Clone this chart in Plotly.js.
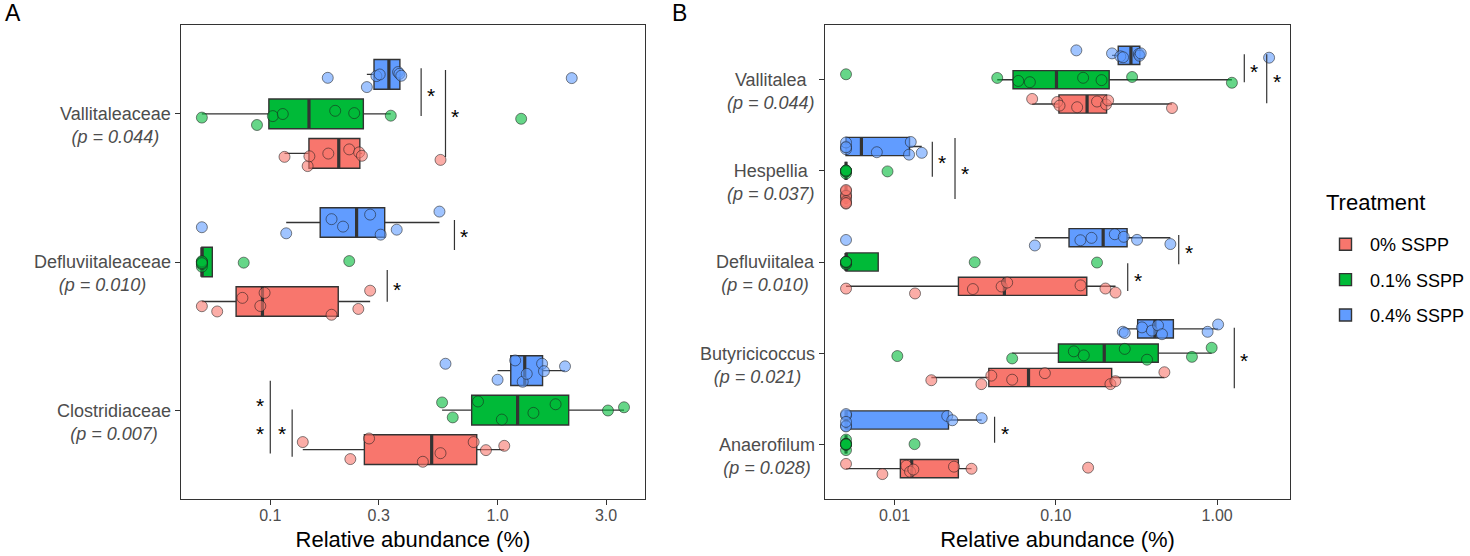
<!DOCTYPE html>
<html><head><meta charset="utf-8">
<script src="https://cdn.plot.ly/plotly-3.0.1.min.js"></script>
<style>html,body{margin:0;padding:0;background:#fff}#chart{width:1470px;height:556px}</style>
</head><body><div id="chart"></div>
<script>
// ---------- data ----------
const treatments = ['0% SSPP', '0.1% SSPP', '0.4% SSPP'];
const treatmentColors = ['#F8766D', '#00BA38', '#619CFF'];
const legendTitle = 'Treatment';

const categoriesA = ['Vallitaleaceae', 'Defluviitaleaceae', 'Clostridiaceae'];
const pValuesA = ['0.044', '0.010', '0.007'];
const categoriesB = ['Vallitalea', 'Hespellia', 'Defluviitalea', 'Butyricicoccus', 'Anaerofilum'];
const pValuesB = ['0.044', '0.037', '0.010', '0.021', '0.028'];

// relative abundance (%), one list per category (same order as categories)
const valuesA_0 = [
  [0.1155, 0.146, 0.1486, 0.180, 0.2225, 0.246, 0.253, 0.561],
  [0.05, 0.0584, 0.0754, 0.0904, 0.0944, 0.186, 0.244, 0.275],
  [0.139, 0.225, 0.272, 0.469, 0.561, 0.785, 0.889, 1.07]
];
const valuesA_01 = [
  [0.05, 0.0874, 0.1026, 0.1135, 0.193, 0.234, 0.339, 1.27],
  [0.05, 0.05, 0.05, 0.05, 0.05, 0.05, 0.0764, 0.2225],
  [0.570, 0.635, 0.82, 1.044, 1.438, 1.80, 3.06, 3.6]
];
const valuesA_04 = [
  [0.179, 0.266, 0.293, 0.303, 0.365, 0.370, 0.377, 2.12],
  [0.05, 0.1175, 0.186, 0.209, 0.275, 0.306, 0.360, 0.555],
  [0.59, 1.0, 1.195, 1.29, 1.344, 1.57, 1.60, 1.98]
];
const valuesB_0 = [
  [0.0713, 0.1019, 0.1054, 0.1355, 0.180, 0.2048, 0.211, 0.525],
  [0.005, 0.005, 0.005, 0.005, 0.005, 0.005, 0.005, 0.005],
  [0.005, 0.01339, 0.0306, 0.0461, 0.0499, 0.1423, 0.203, 0.2344],
  [0.0169, 0.0345, 0.0398, 0.0536, 0.0855, 0.218, 0.234, 0.471],
  [0.005, 0.0084, 0.01183, 0.01247, 0.01307, 0.02335, 0.030, 0.1585]
];
const valuesB_01 = [
  [0.005, 0.0433, 0.0585, 0.069, 0.1476, 0.192, 0.297, 1.235],
  [0.005, 0.005, 0.005, 0.005, 0.005, 0.005, 0.005, 0.00904],
  [0.005, 0.005, 0.005, 0.005, 0.005, 0.005, 0.0314, 0.180],
  [0.0104, 0.0536, 0.1293, 0.149, 0.2674, 0.3675, 0.698, 0.925],
  [0.005, 0.005, 0.005, 0.005, 0.005, 0.005, 0.005, 0.0133]
];
const valuesB_04 = [
  [0.134, 0.223, 0.251, 0.261, 0.327, 0.330, 0.336, 2.10],
  [0.005, 0.005, 0.005, 0.005, 0.00776, 0.0123, 0.0126, 0.01474],
  [0.005, 0.0741, 0.142, 0.1664, 0.232, 0.2637, 0.3187, 0.513],
  [0.260, 0.2674, 0.342, 0.394, 0.430, 0.455, 0.873, 1.014],
  [0.005, 0.005, 0.005, 0.005, 0.005, 0.0212, 0.0228, 0.0347]
];

const tickValsA = [0.1, 0.3, 1, 3];
const tickTextA = ['0.1', '0.3', '1.0', '3.0'];
const tickValsB = [0.01, 0.1, 1];
const tickTextB = ['0.01', '0.10', '1.00'];

// significance markers: panel, category, bracket span (category units), value, star side, star offsets
const significance = [
  {panel: 0, cat: 'Vallitaleaceae', span: [0.308, -0.014], at: 0.461, side: 1, stars: [0.148]},
  {panel: 0, cat: 'Vallitaleaceae', span: [0.296, -0.291], at: 0.590, side: 1, stars: [0.008]},
  {panel: 0, cat: 'Defluviitaleaceae', span: [0.284, 0.081], at: 0.646, side: 1, stars: [0.196]},
  {panel: 0, cat: 'Defluviitaleaceae', span: [-0.054, -0.268], at: 0.327, side: 1, stars: [-0.162]},
  {panel: 0, cat: 'Clostridiaceae', span: [0.199, -0.292], at: 0.1, side: -1, stars: [0.061, -0.128]},
  {panel: 0, cat: 'Clostridiaceae', span: [0.005, -0.315], at: 0.1248, side: -1, stars: [-0.128]},
  {panel: 1, cat: 'Vallitalea', span: [0.279, -0.029], at: 1.474, side: 1, stars: [0.132]},
  {panel: 1, cat: 'Vallitalea', span: [0.279, -0.259], at: 2.03, side: 1, stars: [0.026]},
  {panel: 1, cat: 'Hespellia', span: [0.319, -0.065], at: 0.01714, side: 1, stars: [0.14]},
  {panel: 1, cat: 'Hespellia', span: [0.36, -0.309], at: 0.0237, side: 1, stars: [0.02]},
  {panel: 1, cat: 'Defluviitalea', span: [0.296, -0.025], at: 0.578, side: 1, stars: [0.15]},
  {panel: 1, cat: 'Defluviitalea', span: [-0.014, -0.318], at: 0.279, side: 1, stars: [-0.161]},
  {panel: 1, cat: 'Butyricicoccus', span: [0.279, -0.386], at: 1.278, side: 1, stars: [-0.04]},
  {panel: 1, cat: 'Anaerofilum', span: [0.303, 0.018], at: 0.0417, side: 1, stars: [0.165]}
];

// ---------- helpers ----------
function boxStats(vals) {
  const l = vals.map(Math.log10).sort((a, b) => a - b);
  const q = p => {
    const h = (l.length - 1) * p, lo = Math.floor(h);
    const hi = Math.min(lo + 1, l.length - 1);
    return l[lo] + (h - lo) * (l[hi] - l[lo]);
  };
  const q1 = q(0.25), med = q(0.5), q3 = q(0.75), iqr = q3 - q1;
  const lf = Math.min(...l.filter(v => v >= q1 - 1.5 * iqr - 1e-12));
  const uf = Math.max(...l.filter(v => v <= q3 + 1.5 * iqr + 1e-12));
  return [q1, med, q3, lf, uf].map(v => Math.pow(10, v));
}
function rgba(hex, a) {
  const n = parseInt(hex.slice(1), 16);
  return `rgba(${(n >> 16) & 255},${(n >> 8) & 255},${n & 255},${a})`;
}
function logRange(sets) {
  const all = sets.flat(2).map(Math.log10);
  const mn = Math.min(...all), mx = Math.max(...all), pad = (mx - mn) * 0.05;
  return [mn - pad, mx + pad];
}

const panels = [
  {cats: categoriesA, ps: pValuesA, sets: [valuesA_0, valuesA_01, valuesA_04], xa: 'x', ya: 'y'},
  {cats: categoriesB, ps: pValuesB, sets: [valuesB_0, valuesB_01, valuesB_04], xa: 'x2', ya: 'y2'}
];

const FONT = 'Liberation Sans, Arial, Helvetica, sans-serif';
const EDGE = '#333333';
const traces = [];

panels.forEach((P, pi) => {
  const boxes = [], medians = [], points = [];
  P.sets.forEach((set, ti) => {
    const st = set.map(boxStats);
    const col = treatmentColors[ti];
    boxes.push({
      type: 'box', orientation: 'h', name: treatments[ti], legendgroup: treatments[ti],
      showlegend: pi === 0, xaxis: P.xa, yaxis: P.ya, y: P.cats,
      q1: st.map(s => s[0]), median: st.map(s => s[1]), q3: st.map(s => s[2]),
      lowerfence: st.map(s => s[3]), upperfence: st.map(s => s[4]),
      offsetgroup: treatments[ti], fillcolor: col, line: {color: EDGE, width: 1.4},
      whiskerwidth: 0, boxpoints: false, hoverinfo: 'skip'
    });
    medians.push({
      type: 'box', orientation: 'h', name: treatments[ti], legendgroup: treatments[ti],
      showlegend: false, xaxis: P.xa, yaxis: P.ya, y: P.cats,
      q1: st.map(s => s[1]), median: st.map(s => s[1]), q3: st.map(s => s[1]),
      lowerfence: st.map(s => s[1]), upperfence: st.map(s => s[1]),
      offsetgroup: treatments[ti], fillcolor: 'rgba(0,0,0,0)', line: {color: EDGE, width: 3.2},
      whiskerwidth: 0, boxpoints: false, hoverinfo: 'skip'
    });
    const xs = [], ys = [];
    set.forEach((vals, ci) => vals.forEach(v => { xs.push(v); ys.push(P.cats[ci]); }));
    points.push({
      type: 'box', orientation: 'h', name: treatments[ti], legendgroup: treatments[ti],
      showlegend: false, xaxis: P.xa, yaxis: P.ya, x: xs, y: ys,
      offsetgroup: treatments[ti], boxpoints: 'all', jitter: 1, pointpos: 0,
      fillcolor: 'rgba(0,0,0,0)', line: {color: 'rgba(0,0,0,0)', width: 0}, whiskerwidth: 0,
      marker: {size: 11, color: rgba(col, 0.6), line: {color: 'rgba(30,30,30,0.55)', width: 1}},
      hoveron: 'points'
    });
  });
  traces.push(...boxes, ...medians, ...points);
});

// ---------- layout ----------
const W = 1470, H = 556;
const plotTop = 25, plotBottom = 499;
const yDomain = [1 - plotBottom / H, 1 - plotTop / H];
const xDomains = [[181 / W, 646 / W], [826 / W, 1292 / W]];

function xAxis(pi, vals, text) {
  return {
    domain: xDomains[pi], anchor: pi ? 'y2' : 'y', type: 'log',
    range: logRange(panels[pi].sets), tickvals: vals, ticktext: text,
    ticks: 'outside', ticklen: 5, tickwidth: 1, tickcolor: EDGE, ticklabelstandoff: -3,
    tickfont: {family: FONT, size: 16, color: '#4D4D4D'},
    showline: true, mirror: true, linecolor: EDGE, linewidth: 1.3,
    showgrid: false, zeroline: false, automargin: false, fixedrange: true,
    title: {text: 'Relative abundance (%)', font: {family: FONT, size: 22, color: '#000'}, standoff: 8}
  };
}
function yAxis(pi) {
  const cats = panels[pi].cats;
  return {
    domain: yDomain, anchor: pi ? 'x2' : 'x', type: 'category',
    categoryorder: 'array', categoryarray: cats.slice().reverse(),
    range: [-0.6, cats.length - 0.4], showticklabels: false,
    ticks: 'outside', ticklen: 5, tickwidth: 1, tickcolor: EDGE,
    showline: true, mirror: true, linecolor: EDGE, linewidth: 1.3,
    showgrid: false, zeroline: false, automargin: false, fixedrange: true
  };
}

const annotations = [];
const shapes = [];
panels.forEach((P, pi) => {
  const n = P.cats.length;
  P.cats.forEach((c, i) => {
    annotations.push({
      xref: (pi ? 'x2' : 'x') + ' domain', yref: P.ya, x: 0, y: n - 1 - i,
      xanchor: 'right', yanchor: 'middle', xshift: -9, yshift: -12, align: 'center',
      showarrow: false, borderpad: 0,
      text: c + '<br><i>(p = ' + P.ps[i] + ')</i>',
      font: {family: FONT, size: 18, color: '#4D4D4D'}
    });
  });
});
significance.forEach(s => {
  const P = panels[s.panel];
  const idx = P.cats.length - 1 - P.cats.indexOf(s.cat);
  shapes.push({
    type: 'line', xref: P.xa, yref: P.ya, x0: s.at, x1: s.at,
    y0: idx + s.span[0], y1: idx + s.span[1], line: {color: EDGE, width: 1.2}
  });
  s.stars.forEach(o => annotations.push({
    xref: P.xa, yref: P.ya, x: Math.log10(s.at), y: idx + o, xshift: s.side * 10, yshift: -4,
    text: '*', showarrow: false, xanchor: 'center', yanchor: 'middle',
    font: {family: FONT, size: 21, color: '#000'}
  }));
});
annotations.push({xref: 'paper', yref: 'paper', x: 3 / W, y: 1 - 13.5 / H, xanchor: 'left', yanchor: 'middle',
  text: 'A', showarrow: false, font: {family: FONT, size: 23, color: '#000'}});
annotations.push({xref: 'paper', yref: 'paper', x: 671 / W, y: 1 - 13.5 / H, xanchor: 'left', yanchor: 'middle',
  text: 'B', showarrow: false, font: {family: FONT, size: 23, color: '#000'}});
// legend title
annotations.push({xref: 'paper', yref: 'paper', x: 1327 / W, y: 1 - 203 / H, xanchor: 'left', yanchor: 'middle',
  text: legendTitle, showarrow: false, borderpad: 0, font: {family: FONT, size: 22, color: '#000'}});

const layout = {
  width: W, height: H, margin: {l: 0, r: 0, t: 0, b: 0},
  paper_bgcolor: '#fff', plot_bgcolor: '#fff',
  font: {family: FONT, color: '#000'},
  boxmode: 'group', boxgap: 0.2, boxgroupgap: 0.25,
  xaxis: xAxis(0, tickValsA, tickTextA), xaxis2: xAxis(1, tickValsB, tickTextB),
  yaxis: yAxis(0), yaxis2: yAxis(1),
  showlegend: true,
  legend: {
    x: 1323 / W, xanchor: 'left', y: 1 - 226 / H, yanchor: 'top',
    font: {family: FONT, size: 18, color: '#000'}, tracegroupgap: 9, itemwidth: 39,
    bgcolor: 'rgba(0,0,0,0)', traceorder: 'grouped'
  },
  annotations: annotations, shapes: shapes, hovermode: false
};

Plotly.newPlot('chart', traces, layout, {displayModeBar: false, responsive: false});
</script>
</body></html>
